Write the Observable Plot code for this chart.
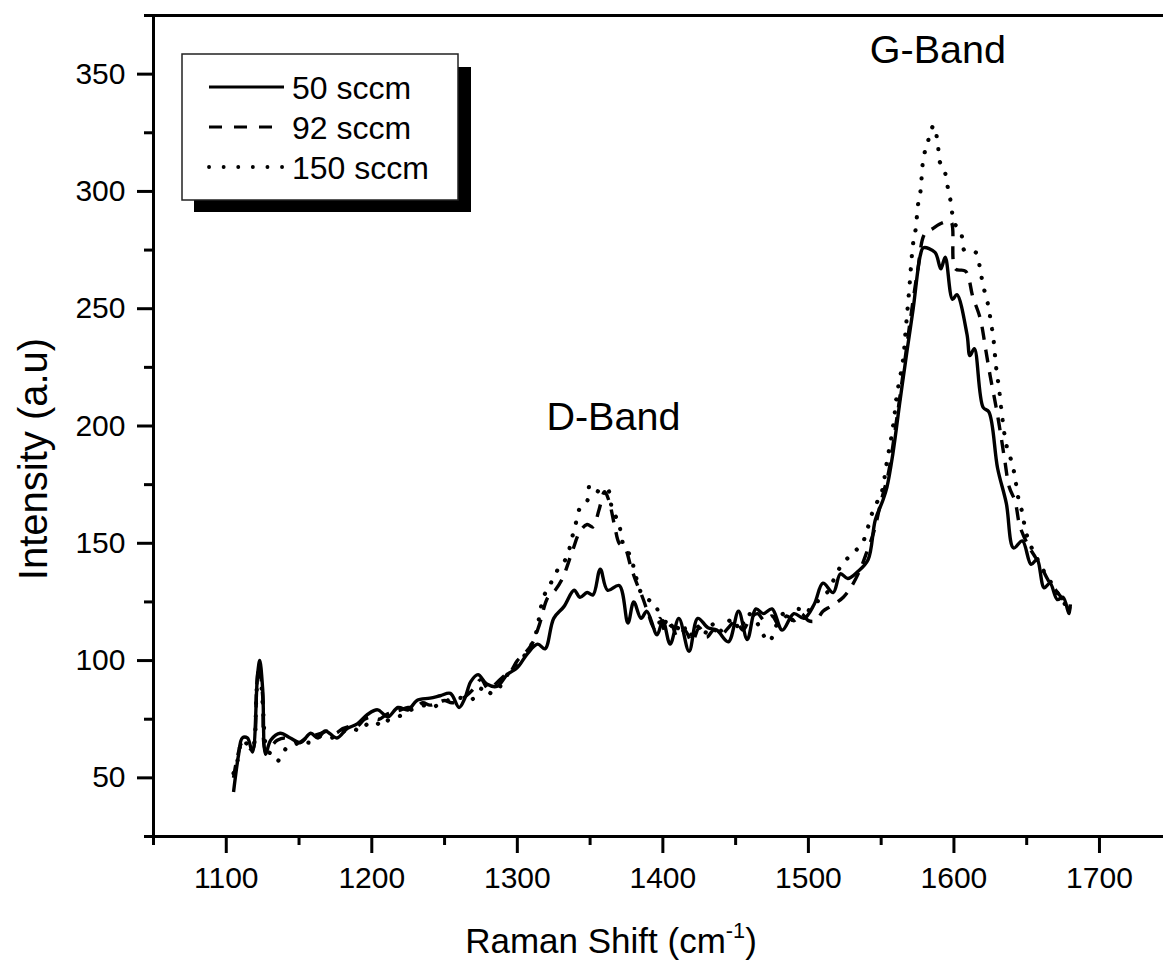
<!DOCTYPE html>
<html>
<head>
<meta charset="utf-8">
<script src="https://cdn.jsdelivr.net/npm/d3@7"></script>
<script src="https://cdn.jsdelivr.net/npm/@observablehq/plot@0.6"></script>
<style>
  html, body { margin: 0; padding: 0; background: #fff; }
  #wrap { position: relative; width: 1163px; height: 970px; font-family: "Liberation Sans", Arial, sans-serif; color: #000; overflow: hidden; }
  #ytitle { position: absolute; left: 33px; top: 459px; transform: translate(-50%, -50%) rotate(-90deg); font-size: 40px; white-space: nowrap; }
  #xtitle { position: absolute; left: 611px; top: 958px; transform: translate(-50%, -100%); font-size: 35px; white-space: nowrap; line-height: 1; }
  #xtitle sup { font-size: 0.62em; vertical-align: 0.7em; line-height: 0; }
  #legend { position: absolute; left: 0; top: 0; }
</style>
</head>
<body>
<div id="wrap">
  <div id="chart"></div>
  <div id="ytitle">Intensity (a.u)</div>
  <div id="xtitle">Raman Shift (cm<sup>-1</sup>)</div>
</div>
<script>
// ---- data (Raman shift, intensity) ----
const s50 = [[1105,44],[1108.5,60],[1111,67],[1114.5,67],[1118,61],[1121.5,94],[1123,100],[1125,88],[1127,60],[1130.5,66],[1137,69],[1144,67],[1151,65],[1158,69],[1163,67],[1168,70],[1176,67],[1183,71],[1190,73],[1197,77],[1204,79],[1211,76],[1218,80],[1225,79],[1231,83],[1240,84],[1247,85],[1254,86],[1260,80],[1264,84],[1268,91],[1273,94],[1279,90],[1286,89],[1293,94],[1300,97],[1307,103],[1314,107],[1319,105],[1325,118],[1332,123],[1339,130],[1343,127],[1348,129],[1352,128],[1357,139],[1362,130],[1370,132],[1376,116],[1380,125],[1385,118],[1389,121],[1396,111],[1400,117],[1405,107],[1411,118],[1418,104],[1424,118],[1431,114],[1437,113],[1445,108],[1452,121],[1458,109],[1464,122],[1469,120],[1475,122],[1482,113],[1490,120],[1497,118],[1504,124],[1510,133],[1517,129],[1522,137],[1527,135],[1534,138],[1541,143],[1546,160],[1551,168],[1554,174],[1558,188],[1563,211],[1568,233],[1572,250],[1577,273],[1579,276],[1587,274],[1591,267],[1594,272],[1599,254],[1602,256],[1609,239],[1611,230],[1614,233],[1620,208],[1624,206],[1630,182],[1636,167],[1641,148],[1647,151],[1653,141],[1657,143],[1662,131],[1666,133],[1671,126],[1675,127],[1679,120],[1680,124]];

const s92 = [[1105,50],[1108,60],[1111,65],[1115,63],[1118,62],[1121,90],[1122.5,98],[1125,85],[1127,62],[1130,63],[1135,66],[1140,67],[1145,66],[1150,65],[1155,67],[1160,68],[1165,69],[1170,70],[1175,69],[1180,71],[1185,72],[1190,72],[1195,75],[1200,76],[1205,75],[1210,77],[1215,78],[1220,79],[1225,80],[1230,80],[1235,82],[1240,81],[1245,82],[1250,83],[1255,82],[1260,83],[1265,85],[1270,88],[1275,92],[1280,88],[1285,90],[1290,93],[1295,95],[1300,100],[1305,103],[1310,107],[1315,115],[1321,127],[1326,130],[1331,135],[1338,147],[1343,155],[1348,158],[1352,157],[1356,164],[1360,172],[1363,168],[1367,157],[1370,150],[1374,148],[1378,140],[1382,133],[1386,127],[1390,120],[1394,114],[1398,118],[1402,112],[1406,115],[1410,110],[1415,113],[1420,108],[1425,114],[1430,110],[1435,113],[1440,111],[1445,114],[1450,117],[1455,113],[1460,118],[1465,120],[1470,117],[1475,119],[1480,115],[1485,119],[1490,117],[1495,120],[1500,117],[1505,117],[1510,121],[1515,123],[1520,125],[1524,127],[1529,131],[1535,138],[1540,146],[1545,155],[1550,168],[1555,180],[1560,200],[1565,222],[1570,245],[1575,266],[1580,282],[1585,284],[1590,286],[1594,287],[1598,287],[1601,267],[1608,266],[1613,255],[1618,246],[1622,232],[1625,221],[1629,208],[1632,197],[1635,185],[1638,174],[1642,168],[1645,158],[1648,153],[1652,148],[1656,144],[1660,140],[1665,134],[1670,130],[1675,126],[1680,122]];

const s150 = [[1105,52],[1108,58],[1111,66],[1115,64],[1118,63],[1121,88],[1123,96],[1125,82],[1128,62],[1131,60],[1135,57],[1138,60],[1142,63],[1147,64],[1152,66],[1157,65],[1162,67],[1167,68],[1172,67],[1177,69],[1182,70],[1187,71],[1192,70],[1197,73],[1202,74],[1207,72],[1212,75],[1217,76],[1222,77],[1227,79],[1232,80],[1237,81],[1242,80],[1247,82],[1252,83],[1257,84],[1262,84],[1267,83],[1272,85],[1277,89],[1282,86],[1287,88],[1292,93],[1297,97],[1302,100],[1307,104],[1312,110],[1318,127],[1323,133],[1328,139],[1334,144],[1337,151],[1340,158],[1343,165],[1348,168],[1350,175],[1356,172],[1362,173],[1365,165],[1370,158],[1372,151],[1378,144],[1381,137],[1385,129],[1390,126],[1395,124],[1399,114],[1404,118],[1408,112],[1413,116],[1418,110],[1423,115],[1428,111],[1433,116],[1438,112],[1443,115],[1448,118],[1453,113],[1458,120],[1463,118],[1468,112],[1473,108],[1478,115],[1483,120],[1488,117],[1493,122],[1498,120],[1503,124],[1508,126],[1514,130],[1520,138],[1526,143],[1531,146],[1537,150],[1541,157],[1545,165],[1550,171],[1554,185],[1558,199],[1561,214],[1565,228],[1567,242],[1569,256],[1572,278],[1574,285],[1575,293],[1577,300],[1579,314],[1582,321],[1586,328],[1589,320],[1590,313],[1593,310],[1596,301],[1598,295],[1600,287],[1605,282],[1607,275],[1611,274],[1615,274],[1618,267],[1620,260],[1623,253],[1625,246],[1627,238],[1629,225],[1631,216],[1633,205],[1636,192],[1640,184],[1642,178],[1644,170],[1647,163],[1649,156],[1652,150],[1656,145],[1660,140],[1665,135],[1670,130],[1675,125],[1680,122]];

const seriesNames = ["50 sccm", "92 sccm", "150 sccm"];
const xMajor = [1100, 1200, 1300, 1400, 1500, 1600, 1700];
const xMinor = [1050, 1150, 1250, 1350, 1450, 1550, 1650, 1750];
const yMajor = [50, 100, 150, 200, 250, 300, 350];
const yMinor = [25, 75, 125, 175, 225, 275, 325, 375];
const bands = [{x: 1366, y: 203.5, label: "D-Band"}, {x: 1589, y: 360, label: "G-Band"}];

const dash = {"50 sccm": null, "92 sccm": "13,10", "150 sccm": "0.1,13"};
const widths = {"50 sccm": 3.4, "92 sccm": 3.4, "150 sccm": 4.2};

const toRows = (arr, name) => arr.map(([x, y]) => ({x, y, s: name}));
const lines = [s50, s92, s150].map((arr, i) =>
  Plot.line(toRows(arr, seriesNames[i]), {
    x: "x", y: "y", stroke: "black",
    curve: "catmull-rom",
    strokeWidth: widths[seriesNames[i]],
    strokeDasharray: dash[seriesNames[i]],
    strokeLinecap: seriesNames[i] === "150 sccm" ? "round" : "butt",
    strokeLinejoin: "round"
  })
);

const chart = Plot.plot({
  width: 1163,
  height: 970,
  marginLeft: 153,
  marginRight: 0,
  marginTop: 15,
  marginBottom: 134,
  style: {fontFamily: "'Liberation Sans', Arial, sans-serif", fontSize: "30px", color: "black", background: "white", overflow: "visible"},
  x: {domain: [1050, 1744], label: null},
  y: {domain: [25, 375], label: null},
  marks: [
    Plot.axisX({ticks: xMajor, tickSize: 17, tickPadding: 13, strokeWidth: 3, fontSize: 30, label: null, tickFormat: d => String(d)}),
    Plot.axisX({ticks: xMinor.filter(d => d <= 1744), tickSize: 9, strokeWidth: 3, text: null, label: null}),
    Plot.axisY({ticks: yMajor, tickSize: 16, tickPadding: 12, strokeWidth: 3, fontSize: 30, label: null}),
    Plot.axisY({ticks: yMinor, tickSize: 9, strokeWidth: 3, text: null, label: null}),
    Plot.ruleY([25], {stroke: "black", strokeWidth: 3}),
    Plot.ruleY([375], {stroke: "black", strokeWidth: 3}),
    Plot.ruleX([1050], {stroke: "black", strokeWidth: 3}),
    ...lines,
    Plot.text(bands, {x: "x", y: "y", text: "label", fontSize: 39.5, textAnchor: "middle", lineAnchor: "middle", fill: "black"})
  ]
});
document.getElementById("chart").appendChild(chart);

// ---- legend (drawn inside the plot area, top-left) ----
const ns = "http://www.w3.org/2000/svg";
const lg = document.createElementNS(ns, "svg");
lg.setAttribute("id", "legend");
lg.setAttribute("width", 1163);
lg.setAttribute("height", 970);
function el(tag, attrs) {
  const e = document.createElementNS(ns, tag);
  for (const k in attrs) e.setAttribute(k, attrs[k]);
  lg.appendChild(e);
  return e;
}
el("rect", {x: 194, y: 67, width: 277, height: 145, fill: "black"});
el("rect", {x: 182, y: 54, width: 276, height: 146, fill: "white", stroke: "#222", "stroke-width": 1.5});
seriesNames.forEach((name, i) => {
  const yy = 87 + i * 40;
  const ln = el("line", {x1: 209, x2: 284, y1: yy, y2: yy, stroke: "black", "stroke-width": name === "150 sccm" ? 3.8 : 3});
  if (dash[name]) ln.setAttribute("stroke-dasharray", name === "92 sccm" ? "13,12" : "0.1,14.5");
  if (name === "150 sccm") ln.setAttribute("stroke-linecap", "round");
  const t = el("text", {x: 292, y: yy + 12, "font-size": 32, "font-family": "'Liberation Sans', Arial, sans-serif", fill: "black"});
  t.textContent = name;
});
document.getElementById("wrap").appendChild(lg);
</script>
</body>
</html>
